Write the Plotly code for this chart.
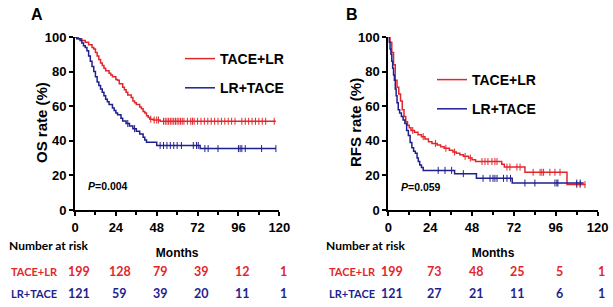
import plotly.graph_objects as go
import numpy as np

RED = "#e3262b"
BLUE = "#1f1f8f"
W, H = 613, 307

def px(x):
    return x / W

def py(y):
    return 1 - y / H

# ---------- Data: Panel A (OS) ----------
a_red_t = [0, 2, 4, 6, 8, 10, 11, 12, 13, 14, 15, 16, 17, 18, 20, 21, 22, 24, 25, 26, 28, 29, 30, 31, 33, 34, 35, 36, 38, 39, 40, 41, 42, 43, 44, 46, 50, 118]
a_red_s = [100, 99, 98, 97, 95.5, 94, 93, 91, 89, 87, 85, 83.5, 82, 80.5, 79, 78, 77, 75.5, 75, 73, 71, 69.5, 68, 66.5, 65, 63, 62, 61, 59.5, 58.5, 57, 56, 54.5, 53.5, 52.5, 52, 51.3, 51.3]
a_red_cens = [44.5, 46.5, 48, 49, 52, 53, 54, 55, 56, 57, 58, 59, 60, 61, 62, 63, 64, 66, 68, 69, 70, 72, 74, 76, 78, 80, 82, 84, 86, 88, 90, 92, 94, 98, 100, 102, 104, 106, 108, 110, 112, 117]

a_blue_t = [0, 1, 3, 4, 5, 6, 7, 8, 9, 10, 11, 12, 13, 14, 15, 16, 17, 18, 19, 20, 22, 23, 24, 25, 27, 28, 30, 32, 34, 36, 38, 40, 41, 42, 48, 73.5, 118]
a_blue_s = [100, 99, 98, 96.5, 95, 94, 92, 89, 86, 83, 80, 77, 74, 72, 70, 68, 66, 64, 62.5, 61, 59, 57.5, 56, 55, 53, 51.5, 50, 48.5, 47, 45.5, 44, 42, 40.5, 39.2, 37.3, 35.5, 35.5]
a_blue_cens = [31, 35, 50, 52, 54, 56, 58, 60, 62.5, 69.5, 71.4, 72.4, 76.3, 78.2, 84, 96, 97, 98, 100, 109.6, 118]

# ---------- Data: Panel B (RFS) ----------
b_red_t = [0, 1, 2, 3, 4, 5, 6, 7, 8, 9, 10, 11, 12, 13, 15, 17, 19, 21, 23, 25, 28, 30, 32, 35, 37, 39, 41, 43, 46, 48, 50, 65, 66.5, 78.3, 102.4, 113]
b_red_s = [100, 97, 91, 84, 75, 71, 67, 63, 58, 54, 51, 49, 47.5, 46, 45, 43.5, 42.4, 41, 39.5, 38.5, 37.5, 36.5, 35.7, 34.5, 33.5, 32.8, 32, 31, 30, 29, 28, 26.5, 24.8, 21.8, 14.7, 14.7]
b_red_cens = [14, 20, 27, 33, 38, 44, 47, 53.7, 55.4, 57.1, 59.4, 61.1, 62.3, 68, 69.7, 73.7, 75.5, 83, 87, 88, 89, 92.6, 95.5, 98.4, 108, 109.9, 112.7]

b_blue_t = [0, 0.5, 1, 1.5, 2, 2.5, 3, 3.5, 4, 4.5, 5, 5.7, 6.5, 7.5, 8.5, 9.5, 10.5, 11.5, 12.5, 13.5, 14.5, 15.5, 16.5, 17.2, 18, 19, 20, 38, 50.5, 71, 112]
b_blue_s = [100, 97, 93, 90, 86, 82, 78, 75, 70, 66, 62, 58, 56, 54, 52, 50, 46, 43, 39, 36, 34, 32.8, 30, 28, 26, 24.5, 22.9, 21, 18.3, 15.6, 15.6]
b_blue_cens = [28.6, 32.5, 36.3, 43, 54.3, 58.3, 60, 61.1, 62.3, 66, 68, 70, 78.3, 84, 95.5, 96.6, 97.2, 108, 110]

risk_times = [0, 24, 48, 72, 96, 120]
a_risk_red = [199, 128, 79, 39, 12, 1]
a_risk_blue = [121, 59, 39, 20, 11, 1]
b_risk_red = [199, 73, 48, 25, 5, 1]
b_risk_blue = [121, 27, 21, 11, 6, 1]

x_ticks = [0, 24, 48, 72, 96, 120]
y_ticks = [0, 20, 40, 60, 80, 100]


def surv_at(t, times, surv):
    idx = np.searchsorted(np.array(times), t, side="right") - 1
    return float(surv[max(idx, 0)])


fig = go.Figure()

def add_curve(times, surv, cens, color, name, xa, ya, legend):
    fig.add_trace(go.Scatter(
        x=times, y=surv, mode="lines", line=dict(color=color, width=1.5, shape="hv"),
        name=name, xaxis=xa, yaxis=ya, legend=legend, legendgroup=name + legend,
        showlegend=True))
    fig.add_trace(go.Scatter(
        x=cens, y=[surv_at(c, times, surv) for c in cens], mode="markers",
        marker=dict(symbol="line-ns-open", size=5, color=color, line=dict(color=color, width=1)),
        xaxis=xa, yaxis=ya, showlegend=False, hoverinfo="skip"))

add_curve(a_red_t, a_red_s, a_red_cens, RED, "TACE+LR", "x", "y", "legend")
add_curve(a_blue_t, a_blue_s, a_blue_cens, BLUE, "LR+TACE", "x", "y", "legend")
add_curve(b_red_t, b_red_s, b_red_cens, RED, "TACE+LR", "x2", "y2", "legend2")
add_curve(b_blue_t, b_blue_s, b_blue_cens, BLUE, "LR+TACE", "x2", "y2", "legend2")

NARROW = "Liberation Sans Narrow, Arial Narrow, Liberation Sans, Arial"
tickfont = dict(family=NARROW, size=13, color="black", weight="bold")
xtitlefont = dict(family="Liberation Sans, Arial", size=12, color="black", weight="bold")

def xaxis(x0, x1, anchor):
    return dict(domain=[px(x0), px(x1)], anchor=anchor, range=[0, 120], tickvals=x_ticks,
                showline=True, linecolor="black", linewidth=2, ticks="outside",
                ticklen=4, tickwidth=1.5, tickcolor="black", tickfont=tickfont,
                showgrid=False, zeroline=False, automargin=False,
                minor=dict(dtick=12, tick0=0, ticks="outside", ticklen=3, tickwidth=1.5, tickcolor="black", showgrid=False),
                title=dict(text="Months", font=xtitlefont, standoff=15))

def yaxis(anchor):
    return dict(domain=[py(210), py(37)], anchor=anchor, range=[0, 100], tickvals=y_ticks,
                showline=True, linecolor="black", linewidth=2, ticks="outside",
                ticklen=4, tickwidth=1.5, tickcolor="black", tickfont=tickfont,
                showgrid=False, zeroline=False, automargin=False)

legfont = dict(family=NARROW, size=14, color="black", weight="bold")
fig.update_layout(
    width=W, height=H, margin=dict(l=0, r=0, t=0, b=0),
    paper_bgcolor="white", plot_bgcolor="white",
    xaxis=xaxis(75, 279.3, "y"),
    yaxis=yaxis("x"),
    xaxis2=xaxis(388.3, 597.7, "y2"),
    yaxis2=yaxis("x2"),
    showlegend=True,
    legend=dict(x=px(180), y=py(43), xanchor="left", yanchor="top",
                bgcolor="rgba(0,0,0,0)", itemwidth=30, traceorder="grouped", tracegroupgap=8,
                font=legfont),
    legend2=dict(x=px(432), y=py(64), xanchor="left", yanchor="top",
                 bgcolor="rgba(0,0,0,0)", itemwidth=30, traceorder="grouped", tracegroupgap=8,
                 font=legfont),
)

ann = []
def txt(x, y, s, size, color="black", family="Liberation Sans, Arial", xanchor="left",
        xref="paper", xshift=0, angle=0):
    ann.append(dict(x=x, y=y, xref=xref, yref="paper", text=s, showarrow=False,
                    xanchor=xanchor, yanchor="middle", xshift=xshift, textangle=angle,
                    font=dict(family=family, size=size, color=color, weight="bold")))

txt(px(29), py(14), "A", 16)
txt(px(344), py(14), "B", 16)
txt(px(42), py(123), "OS rate (%)", 15, xanchor="center", angle=-90)
txt(px(356), py(123), "RFS rate (%)", 15, xanchor="center", angle=-90)
txt(px(86), py(186), "<i>P</i>=0.004", 10.5)
txt(px(399), py(187), "<i>P</i>=0.059", 10.5)

LF = "Lato, Carlito, sans-serif"
txt(px(7), py(245), "Number at risk", 12, family=LF)
txt(px(324), py(245), "Number at risk", 12, family=LF)
txt(px(9), py(271), "TACE+LR", 11, RED, LF)
txt(px(9), py(293), "LR+TACE", 11, BLUE, LF)
txt(px(327), py(271), "TACE+LR", 11, RED, LF)
txt(px(327), py(293), "LR+TACE", 11, BLUE, LF)

for t, r, b in zip(risk_times, a_risk_red, a_risk_blue):
    txt(t, py(271), str(r), 12.5, RED, LF, xanchor="center", xref="x", xshift=4)
    txt(t, py(293), str(b), 12.5, BLUE, LF, xanchor="center", xref="x", xshift=4)
for t, r, b in zip(risk_times, b_risk_red, b_risk_blue):
    txt(t, py(271), str(r), 12.5, RED, LF, xanchor="center", xref="x2", xshift=4)
    txt(t, py(293), str(b), 12.5, BLUE, LF, xanchor="center", xref="x2", xshift=4)

fig.update_layout(annotations=ann)
fig.write_html("out.html", config={"displayModeBar": False},
               post_script="document.body.style.margin='0';document.body.style.overflow='hidden';")
